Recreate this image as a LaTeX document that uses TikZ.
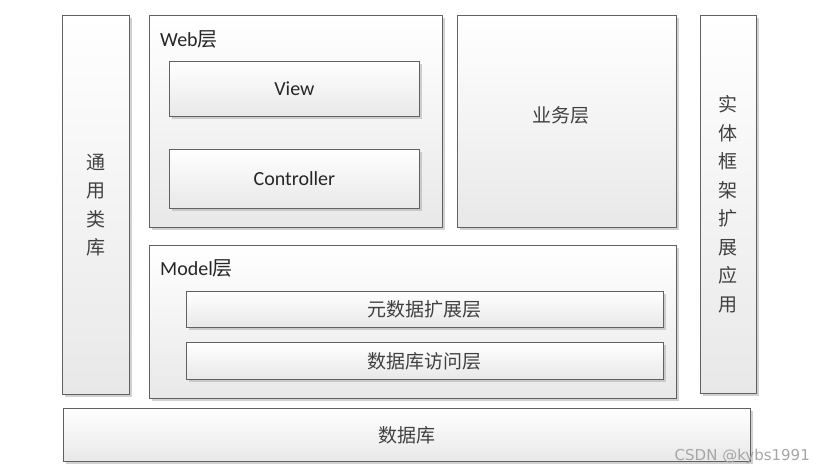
\documentclass[tikz,border=0pt]{standalone}
\usepackage{fontspec}
\setmainfont{Carlito}
\newfontfamily\cjk{Noto Sans CJK SC}
\newfontfamily\marksans{DejaVu Sans}
\usetikzlibrary{positioning, shadows}

\begin{document}
\begin{tikzpicture}[
  x=1pt, y=-1pt,
  box/.style = {draw=black!62, line width=0.8pt, top color=white, bottom color=black!9,
    drop shadow={shadow xshift=2.5pt, shadow yshift=-2.5pt, fill=black!30, opacity=0.6},
    inner sep=0pt, anchor=north west, text=black!85, font=\fontsize{20}{24}\selectfont},
  zh/.style = {font=\cjk\fontsize{19}{28.5}\selectfont, align=center, text=black!75},
  title/.style = {anchor=base west, inner sep=0pt, text=black!85, font=\fontsize{20}{24}\selectfont},
  node distance=32pt
]
\useasboundingbox (0,0) rectangle (829,471);

% side columns
\node[box, zh, minimum width=67, minimum height=379] (common) at (62,15) {通\\用\\类\\库};
\node[box, zh, minimum width=56, minimum height=378] (entity) at (700,15) {实\\体\\框\\架\\扩\\展\\应\\用};

% web layer
\node[box, minimum width=293, minimum height=212] (web) at (149,15) {};
\node[title] (webtitle) at (160,46) {Web{\cjk 层}};
\node[box, minimum width=250, minimum height=55] (view) at (169,61) {View};
\node[box, minimum width=250, minimum height=59, below=of view.south west, anchor=north west] (ctrl) {Controller};

% business layer
\node[box, minimum width=219, minimum height=212] (biz) at (457,15) {};
\node[zh, inner sep=0pt] (biztext) at (561,115) {业务层};

% model layer
\node[box, minimum width=527, minimum height=153] (model) at (149,245) {};
\node[title] (modeltitle) at (160,275) {Model{\cjk 层}};
\node[box, zh, minimum width=477, minimum height=36] (meta) at (186,291) {元数据扩展层};
\node[box, zh, minimum width=477, minimum height=37] (dbaccess) at (186,342) {数据库访问层};

% database
\node[box, zh, minimum width=687, minimum height=53] (db) at (63,408) {数据库};

% watermark
\node[anchor=base east, inner sep=0pt, text=black!35, font=\marksans\fontsize{15}{18}\selectfont] (mark) at (810,460) {CSDN @kybs1991};
\end{tikzpicture}
\end{document}
